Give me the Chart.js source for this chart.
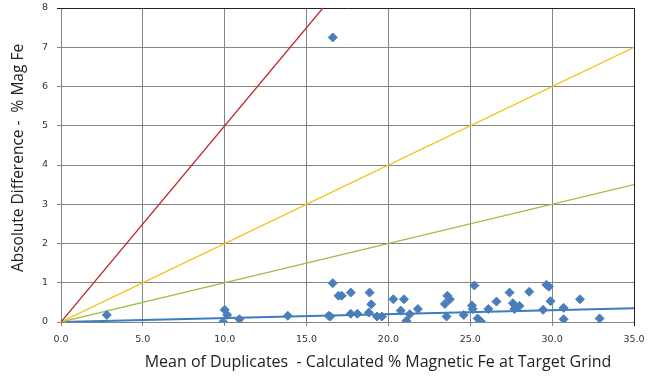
<!DOCTYPE html>
<html>
<head>
<meta charset="utf-8">
<script src="https://cdn.jsdelivr.net/npm/chart.js@4/dist/chart.umd.min.js"></script>
<style>
  html, body { margin: 0; padding: 0; background: #fff; }
  #wrap { width: 653px; height: 382px; }
</style>
</head>
<body>
<div id="wrap"><canvas id="myChart" width="653" height="382"></canvas></div>
<script>
// duplicate pairs: mean (x) vs absolute difference (y)
let meanVals = [2.8, 10.0, 10.15, 9.9, 10.9, 13.85, 16.6, 16.95, 16.45, 16.35,
    17.15, 17.7, 18.85, 18.95, 17.7, 18.1, 18.8, 19.3, 19.6,
    20.3, 20.95, 20.75, 21.3, 21.1, 21.8, 23.6, 23.75, 23.45, 23.55, 24.6,
    25.25, 25.1, 25.15, 25.45, 25.65, 26.1, 26.6, 27.4, 27.6, 28.0, 27.7,
    28.6, 29.65, 29.8, 29.9, 29.45, 30.7, 30.7, 31.7, 32.9, 16.6];
let diffVals = [0.18, 0.31, 0.18, 0.0, 0.07, 0.16, 0.99, 0.67, 0.14, 0.16,
    0.67, 0.75, 0.75, 0.45, 0.21, 0.21, 0.24, 0.14, 0.14,
    0.58, 0.58, 0.29, 0.2, 0.03, 0.33, 0.67, 0.58, 0.46, 0.14, 0.18,
    0.93, 0.42, 0.33, 0.09, 0.01, 0.33, 0.52, 0.75, 0.48, 0.41, 0.33,
    0.77, 0.95, 0.9, 0.53, 0.31, 0.36, 0.07, 0.58, 0.09, 7.25];

// reference lines y = slope * x
let lineNames = ["50%", "20%", "10%", "1%"];
let lineSlopes = [0.5, 0.2, 0.1, 0.01];
let lineColors = ["#c0282d", "#f2c21a", "#9bc04c", "#3d7cc0"];
let lineWidths = [1.3, 1.3, 1.3, 2];

let xTicks = [0, 5, 10, 15, 20, 25, 30, 35];
let yTicks = [0, 1, 2, 3, 4, 5, 6, 7, 8];
let xMax = 35, yMax = 8;

let xTitle = "Mean of Duplicates  - Calculated % Magnetic Fe at Target Grind";
let yTitle = "Absolute Difference -  % Mag Fe";

let lineSets = lineSlopes.map((s, i) => {
    let xEnd = Math.min(xMax, yMax / s);
    return {
        label: lineNames[i],
        data: [{ x: 0, y: 0 }, { x: xEnd, y: s * xEnd }],
        showLine: true,
        borderColor: lineColors[i],
        borderWidth: lineWidths[i],
        pointRadius: 0,
        order: 2,
    };
});

let pts = meanVals.map((v, i) => ({ x: v, y: diffVals[i] }));

let axisTitles = {
    id: "axisTitles",
    afterDraw(chart) {
        let c = chart.ctx;
        c.save();
        c.fillStyle = "#222";
        c.textAlign = "center";
        c.textBaseline = "middle";
        c.font = "16px 'Open Sans'";
        c.fillText(xTitle, 378, 362);
        c.font = "15.5px 'Open Sans'";
        c.translate(19, 158);
        c.rotate(-Math.PI / 2);
        c.fillText(yTitle, 0, 0);
        c.restore();
    },
};

let ctx = document.getElementById("myChart").getContext("2d");
let myChart = new Chart(ctx, {
    type: "scatter",
    data: {
        datasets: [
            {
                label: "Duplicates",
                data: pts,
                backgroundColor: "#4a7ebb",
                borderColor: "#4a7ebb",
                pointStyle: "rectRot",
                pointRadius: 4.5,
                pointHoverRadius: 4.5,
                order: 1,
            },
            ...lineSets,
        ],
    },
    options: {
        responsive: false,
        animation: false,
        layout: { padding: { left: 0, right: 19, top: 8, bottom: 0 } },
        plugins: {
            legend: { display: false },
            tooltip: { enabled: false },
        },
        scales: {
            x: {
                type: "linear",
                min: 0,
                max: xMax,
                afterBuildTicks: (s) => { s.ticks = xTicks.map((v) => ({ value: v })); },
                afterFit: (s) => {
                    s.height = 60;
                    s.paddingLeft = 0;
                    s.paddingRight = 0;
                },
                grid: {
                    color: (c) => (c.tick && c.tick.value === xMax ? "#222" : "#848484"),
                    lineWidth: 1,
                    tickLength: 4,
                },
                border: { display: false },
                ticks: {
                    color: "#333",
                    font: { family: "DejaVu Sans", size: 9.5 },
                    padding: 8,
                    callback: (v) => v.toFixed(1),
                },
            },
            y: {
                type: "linear",
                min: 0,
                max: yMax,
                afterBuildTicks: (s) => { s.ticks = yTicks.map((v) => ({ value: v })); },
                afterFit: (s) => {
                    s.width = 61;
                    s.paddingTop = 0;
                    s.paddingBottom = 0;
                },
                grid: {
                    color: (c) => (c.tick && c.tick.value === yMax ? "#222" : "#848484"),
                    lineWidth: 1,
                    tickLength: 4,
                },
                border: { display: false },
                ticks: {
                    color: "#333",
                    font: { family: "DejaVu Sans", size: 9.5 },
                    padding: 9,
                },
            },
        },
    },
    plugins: [axisTitles],
});
</script>
</body>
</html>
